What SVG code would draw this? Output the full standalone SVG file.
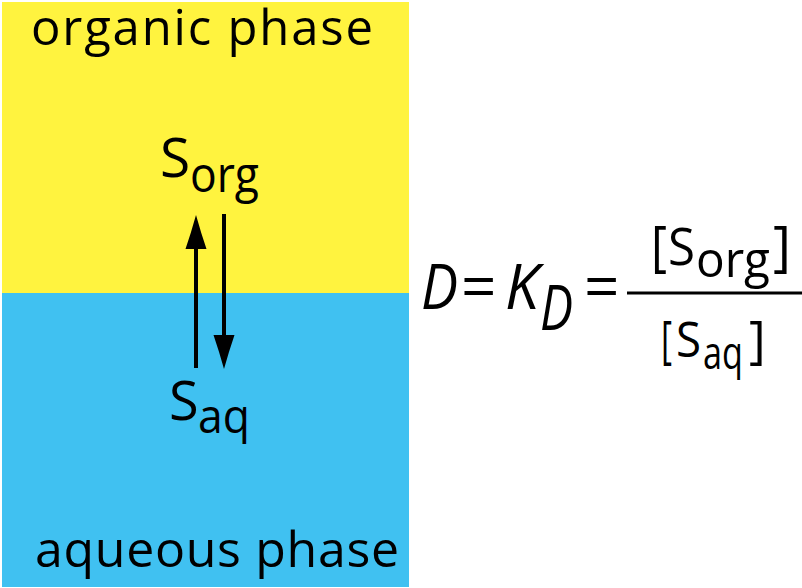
<svg xmlns="http://www.w3.org/2000/svg" width="802" height="588" viewBox="0 0 802 588">
<style>
.t{font-family:"Open Sans","Noto Sans","DejaVu Sans",sans-serif;fill:#000}
.i{font-style:italic}
.conn{stroke:#000;stroke-width:4;fill:none}
</style>
<defs>
<marker id="ah" viewBox="0 -11 34 22" markerWidth="34" markerHeight="22" refX="0" refY="0" orient="auto" markerUnits="userSpaceOnUse">
<path d="M34,0 Q16,-5 0,-10.5 L0,10.5 Q16,5 34,0 Z" fill="#000"/>
</marker>
</defs>
<g id="organic-phase">
<rect x="2" y="2" width="407" height="291" fill="#FFF33F"/>
<text class="t" x="31" y="45" font-size="49" textLength="342">organic phase</text>
</g>
<g id="aqueous-phase">
<rect x="2" y="293" width="407" height="294" fill="#40C1F1"/>
<text class="t" x="35" y="567" font-size="50" textLength="364">aqueous phase</text>
</g>
<g id="S-org">
<text class="t" x="160" y="177" font-size="55">S</text>
<text class="t" x="190" y="192" font-size="50" textLength="69" lengthAdjust="spacingAndGlyphs">org</text>
</g>
<g id="S-aq">
<text class="t" x="169" y="420" font-size="54">S</text>
<text class="t" x="198" y="433" font-size="47" textLength="52" lengthAdjust="spacingAndGlyphs">aq</text>
</g>
<g id="connectors">
<path class="conn" d="M196,368 V249" marker-end="url(#ah)"/>
<path class="conn" d="M224,214 V335" marker-end="url(#ah)"/>
</g>
<g id="equation">
<text class="t i" x="421" y="309" font-size="62" textLength="37" lengthAdjust="spacingAndGlyphs">D</text>
<text class="t" x="461" y="309" font-size="62">=</text>
<text class="t i" x="505" y="309" font-size="62" textLength="34" lengthAdjust="spacingAndGlyphs">K</text>
<text class="t i" x="540" y="330" font-size="62" textLength="33" lengthAdjust="spacingAndGlyphs">D</text>
<text class="t" x="584" y="309" font-size="62">=</text>
<line x1="627" y1="293" x2="802" y2="293" stroke="#000" stroke-width="3"/>
<text class="t" x="651" y="265" font-size="55" textLength="16" lengthAdjust="spacingAndGlyphs">[</text>
<text class="t" x="668" y="265" font-size="52" textLength="27" lengthAdjust="spacingAndGlyphs">S</text>
<text class="t" x="696" y="277" font-size="50" textLength="74" lengthAdjust="spacingAndGlyphs">org</text>
<text class="t" x="773" y="265" font-size="55">]</text>
<text class="t" x="661" y="358" font-size="51" textLength="11" lengthAdjust="spacingAndGlyphs">[</text>
<text class="t" x="676" y="357" font-size="49" textLength="25" lengthAdjust="spacingAndGlyphs">S</text>
<text class="t" x="703" y="369" font-size="45" textLength="40" lengthAdjust="spacingAndGlyphs">aq</text>
<text class="t" x="749" y="358" font-size="51">]</text>
</g>
</svg>
